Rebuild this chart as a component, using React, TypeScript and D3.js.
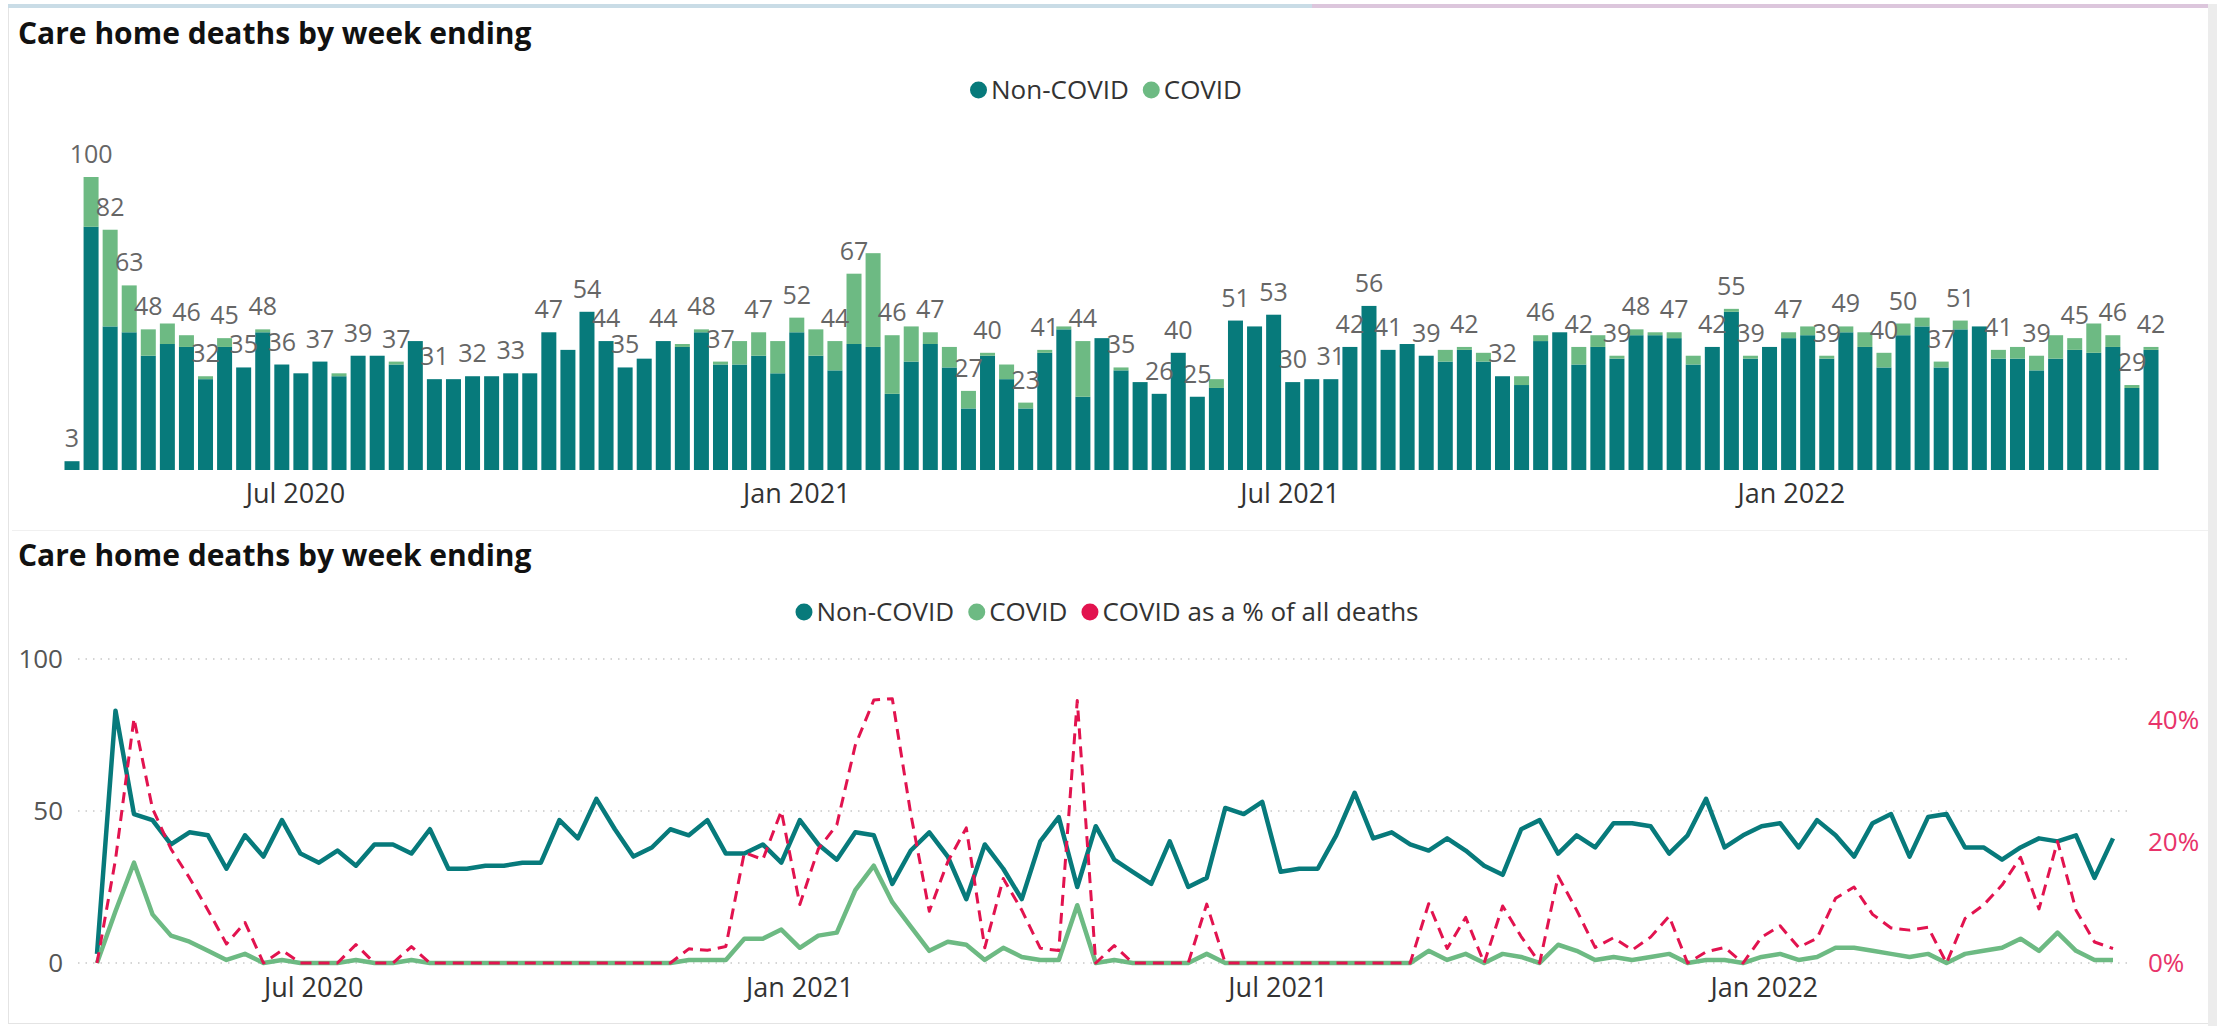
import React from 'react';
import * as d3 from 'd3';

// weekly care home deaths, first week ending 10 Apr 2020
const firstWeek = new Date(2020, 3, 10);

const nonCovid = [
  3, 83, 49, 47, 39, 43, 42, 31, 42, 35,
  47, 36, 33, 37, 32, 39, 39, 36, 44, 31,
  31, 32, 32, 33, 33, 47, 41, 54, 44, 35,
  38, 44, 42, 47, 36, 36, 39, 33, 47, 39,
  34, 43, 42, 26, 37, 43, 35, 21, 39, 31,
  21, 40, 48, 25, 45, 34, 30, 26, 40, 25,
  28, 51, 49, 53, 30, 31, 31, 42, 56, 41,
  43, 39, 37, 41, 37, 32, 29, 44, 47, 36,
  42, 38, 46, 46, 45, 36, 42, 54, 38, 42,
  45, 46, 38, 47, 42, 35, 46, 49, 35, 48,
  49, 38, 38, 34, 38, 41, 40, 42, 28, 41,
];

const covid = [
  0, 17, 33, 16, 9, 7, 4, 1, 3, 0,
  1, 0, 0, 0, 1, 0, 0, 1, 0, 0,
  0, 0, 0, 0, 0, 0, 0, 0, 0, 0,
  0, 0, 1, 1, 1, 8, 8, 11, 5, 9,
  10, 24, 32, 20, 12, 4, 7, 6, 1, 5,
  2, 1, 1, 19, 0, 1, 0, 0, 0, 0,
  3, 0, 0, 0, 0, 0, 0, 0, 0, 0,
  0, 0, 4, 1, 3, 0, 3, 2, 0, 6,
  4, 1, 2, 1, 2, 3, 0, 1, 1, 0,
  2, 3, 1, 2, 5, 5, 4, 3, 2, 3,
  0, 3, 4, 5, 8, 4, 10, 4, 1, 1,
];

const tickDates = [new Date(2020, 6, 1), new Date(2021, 0, 1), new Date(2021, 6, 1), new Date(2022, 0, 1)];
const countTicks = [0, 50, 100];
const pctTicks = [0, 0.2, 0.4];

const weeks = nonCovid.map((_, i) => d3.timeDay.offset(firstWeek, 7 * i));
const totals = nonCovid.map((v, i) => v + covid[i]);
const pct = covid.map((v, i) => (totals[i] ? v / totals[i] : 0));

const TEAL = '#077A7B';
const GREEN = '#6DBA83';
const RED = '#E2134F';
const FONT = '"Segoe UI", "Open Sans", sans-serif';

const canvas = typeof document !== 'undefined' ? document.createElement('canvas') : null;
const measure = (t, font) => {
  const ctx = canvas && canvas.getContext('2d');
  if (!ctx) return t.length * 13;
  ctx.font = font;
  return ctx.measureText(t).width;
};

const fmt = d3.timeFormat('%b %Y');

function Legend({ items, cx, cy }) {
  const size = 26;
  const font = `${size}px ${FONT}`;
  const r = 8.5;
  const gap = 14;
  const widths = items.map(it => 2 * r + 4 + measure(it.label, font));
  const total = d3.sum(widths) + gap * (items.length - 1);
  let pos = cx - total / 2;
  return (
    <g>
      {items.map((it, i) => {
        const x0 = pos;
        pos += widths[i] + gap;
        return (
          <g key={it.label}>
            <circle cx={x0 + r} cy={cy} r={r} fill={it.color} />
            <text x={x0 + 2 * r + 4} y={cy} dy="0.35em" fontSize={size} fontFamily={FONT} fill="#333">
              {it.label}
            </text>
          </g>
        );
      })}
    </g>
  );
}

function BarChart() {
  const x = d3.scaleTime().domain([weeks[0], weeks[weeks.length - 1]]).range([72, 2151]);
  const y = d3.scaleLinear().domain([0, 100]).range([470, 177]);
  const bw = 15;
  const fs = 25;

  // Power BI style label hiding: drop a label if it collides with one already placed
  const kept = [];
  const labels = weeks.map((d, i) => {
    const cx = x(d);
    const base = y(totals[i]) - 14;
    const w = String(totals[i]).length * 0.56 * fs;
    const box = { x0: cx - w / 2, x1: cx + w / 2, y0: base - 25, y1: base };
    const hit = kept.some(b => b.x0 < box.x1 && box.x0 < b.x1 && b.y0 < box.y1 && box.y0 < b.y1);
    if (!hit) kept.push(box);
    return { cx, base, show: !hit, v: totals[i] };
  });

  return (
    <g>
      <text x={18} y={44} fontSize={30} fontWeight={700} fontFamily={FONT} fill="#111">
        Care home deaths by week ending
      </text>
      <Legend cx={1106} cy={90} items={[{ label: 'Non-COVID', color: TEAL }, { label: 'COVID', color: GREEN }]} />
      {weeks.map((d, i) => (
        <g key={i}>
          <rect x={x(d) - bw / 2} y={y(nonCovid[i])} width={bw} height={y(0) - y(nonCovid[i])} fill={TEAL} />
          {covid[i] > 0 && (
            <rect x={x(d) - bw / 2} y={y(totals[i])} width={bw} height={y(nonCovid[i]) - y(totals[i])} fill={GREEN} />
          )}
        </g>
      ))}
      {labels.filter(l => l.show).map((l, i) => (
        <text key={i} x={l.cx} y={l.base} textAnchor="middle" fontSize={fs} fontFamily={FONT} fill="#666">
          {l.v}
        </text>
      ))}
      {tickDates.map(d => (
        <text key={+d} x={x(d)} y={503} textAnchor="middle" fontSize={27} fontFamily={FONT} fill="#333">
          {fmt(d)}
        </text>
      ))}
    </g>
  );
}

function LineChart() {
  const x = d3.scaleTime().domain([weeks[0], weeks[weeks.length - 1]]).range([97, 2113]);
  const yL = d3.scaleLinear().domain([0, 100]).range([963, 659]);
  const yR = d3.scaleLinear().domain([0, 0.5]).range([963, 659]);
  const lineOf = (vals, scale) => d3.line().x((_, i) => x(weeks[i])).y(v => scale(v))(vals);

  return (
    <g>
      <text x={18} y={566} fontSize={30} fontWeight={700} fontFamily={FONT} fill="#111">
        Care home deaths by week ending
      </text>
      <Legend
        cx={1107}
        cy={612}
        items={[
          { label: 'Non-COVID', color: TEAL },
          { label: 'COVID', color: GREEN },
          { label: 'COVID as a % of all deaths', color: RED },
        ]}
      />
      {countTicks.map(t => (
        <g key={t}>
          <line x1={78} x2={2130} y1={yL(t)} y2={yL(t)} stroke="#C8C8C8" strokeWidth={1.5} strokeDasharray="1.5 6" />
          <text x={63} y={yL(t)} dy="0.35em" textAnchor="end" fontSize={26} fontFamily={FONT} fill="#555">
            {t}
          </text>
        </g>
      ))}
      {pctTicks.map(t => (
        <text key={t} x={2148} y={yR(t)} dy="0.35em" fontSize={26} fontFamily={FONT} fill="#E8336A">
          {d3.format('.0%')(t)}
        </text>
      ))}
      <path d={lineOf(nonCovid, yL)} fill="none" stroke={TEAL} strokeWidth={4.5} strokeLinejoin="round" />
      <path d={lineOf(covid, yL)} fill="none" stroke={GREEN} strokeWidth={4.5} strokeLinejoin="round" />
      <path d={lineOf(pct, yR)} fill="none" stroke={RED} strokeWidth={3} strokeDasharray="11 7" strokeLinejoin="round" />
      {tickDates.map(d => (
        <text key={+d} x={x(d)} y={997} textAnchor="middle" fontSize={27} fontFamily={FONT} fill="#333">
          {fmt(d)}
        </text>
      ))}
    </g>
  );
}

export default function App() {
  return (
    <svg width={2222} height={1026} style={{ position: 'absolute', left: 0, top: 0, display: 'block' }}>
      <rect width={2222} height={1026} fill="#fff" />
      <rect x={8} y={4} width={1304} height={4} fill="#C9DCE6" />
      <rect x={1312} y={4} width={896} height={4} fill="#DCC6DC" />
      <rect x={2208} y={4} width={9} height={1022} fill="#ECECEC" />
      <line x1={8.5} x2={8.5} y1={8} y2={1024} stroke="#E4E4E4" strokeWidth={1} />
      <line x1={8} x2={2208} y1={1023.5} y2={1023.5} stroke="#E4E4E4" strokeWidth={1} />
      <line x1={12} x2={2208} y1={530.5} y2={530.5} stroke="#F0F0F0" strokeWidth={1} />
      <BarChart />
      <LineChart />
    </svg>
  );
}
